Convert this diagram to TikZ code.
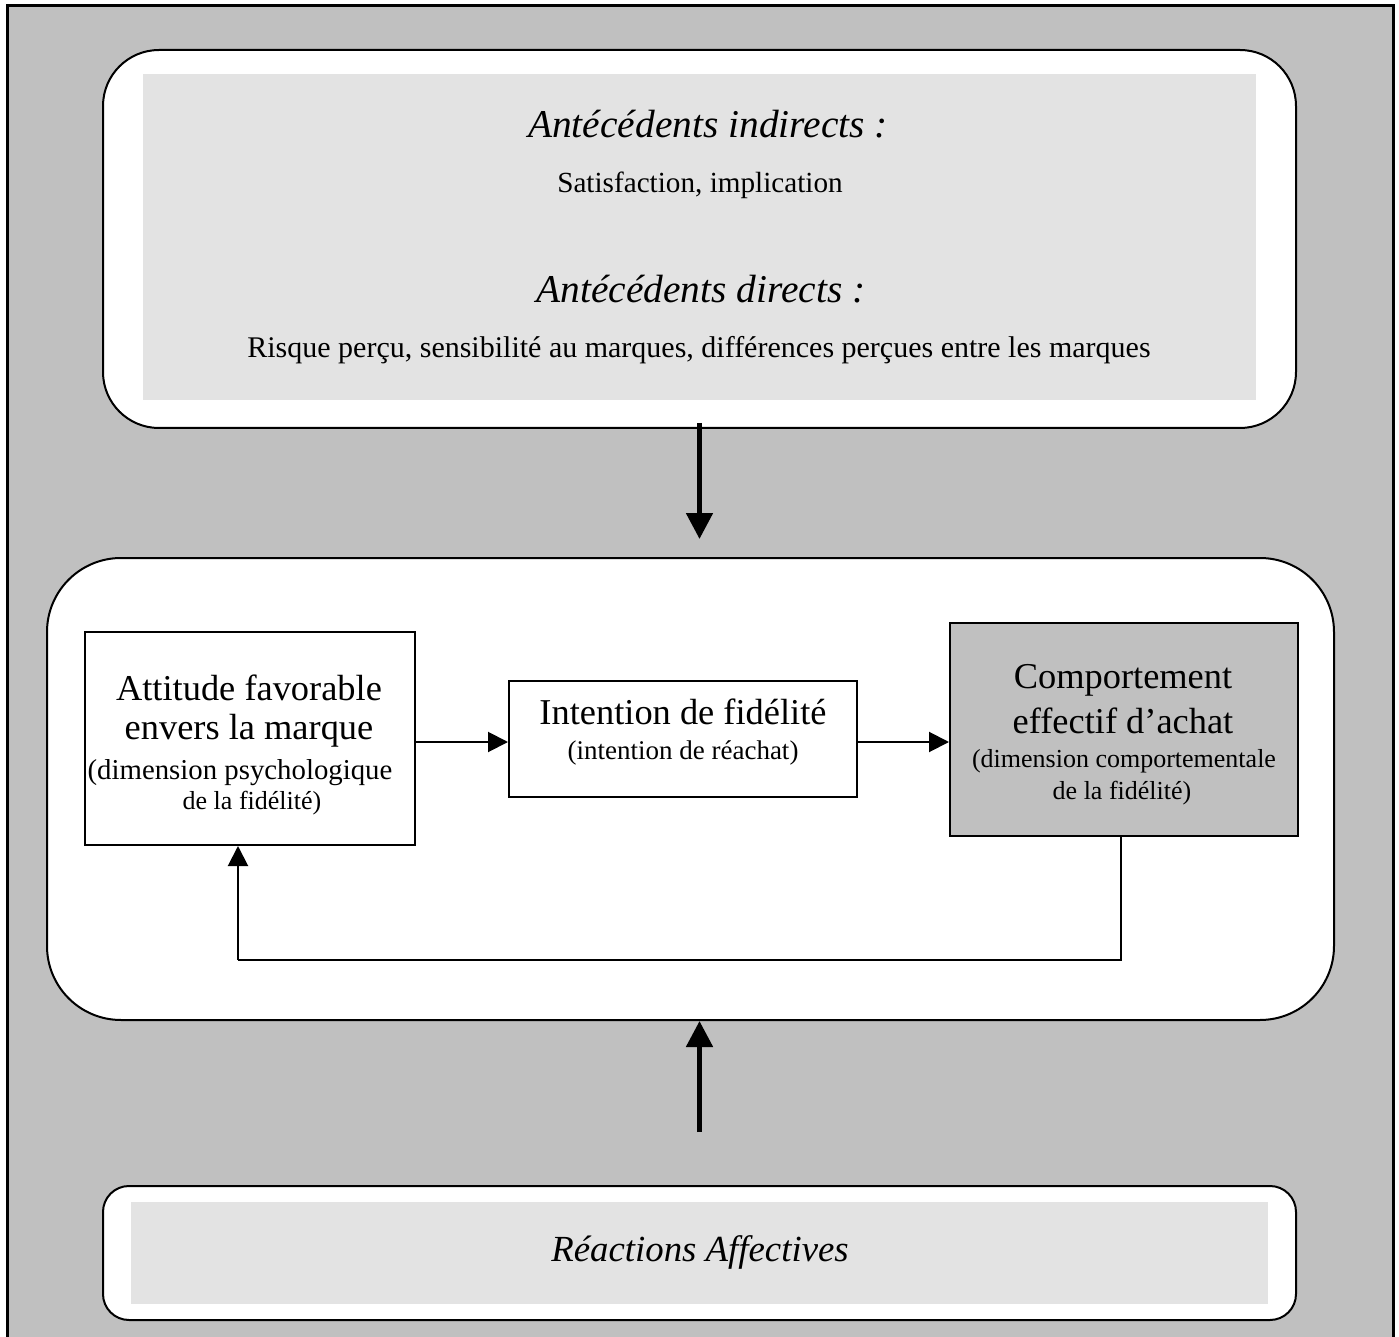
\documentclass[tikz,border=0pt]{standalone}
\usepackage{fontspec}
\setmainfont{Liberation Serif}
\usetikzlibrary{arrows.meta}
\definecolor{bggray}{HTML}{C0C0C0}
\definecolor{lightgray}{HTML}{E3E3E3}
\tikzset{
  panel/.style={fill=lightgray, draw=none, inner sep=0pt},
  plainbox/.style={draw=black, line width=1pt, fill=white, inner sep=0pt},
  darkbox/.style={draw=black, line width=1pt, fill=bggray, inner sep=0pt},
  heading/.style={font=\fontsize{19.7}{23}\selectfont\itshape, inner sep=0pt},
  body/.style={font=\fontsize{14.6}{17}\selectfont, inner sep=0pt},
  big/.style={font=\fontsize{18.2}{21}\selectfont, inner sep=0pt},
  small/.style={font=\fontsize{14.4}{17}\selectfont, inner sep=0pt},
  smaller/.style={font=\fontsize{13}{15}\selectfont, inner sep=0pt},
  thickarrow/.style={line width=2.5pt, -{Triangle[width=13pt,length=13pt]}},
  thinarrow/.style={line width=1pt, -{Triangle[width=10pt,length=10pt]}},
  thinline/.style={line width=1pt}
}
\begin{document}
\begin{tikzpicture}[x=0.5pt,y=-0.5pt]
\useasboundingbox (0,0) rectangle (1399,1337);
% outer frame
\draw[fill=bggray, line width=1.5pt] (7,6) rectangle (1393,1350);

% top rounded box
\node[draw=black, line width=1pt, fill=white, rounded corners=28pt, minimum width=596.5pt, minimum height=189pt, inner sep=0pt] (top) at (699.5,239) {};
\node[panel, minimum width=556.5pt, minimum height=163pt] (toppanel) at (699.5,237) {};
\node[heading] (t1) at (708,124) {Antécédents indirects :};
\node[heading] (t3) at (701,289) {Antécédents directs :};
\node[body] (t2) at (700,185) {Satisfaction, implication};
\node[font=\fontsize{15}{18}\selectfont, inner sep=0pt] (t4) at (699,350) {Risque perçu, sensibilité au marques, différences perçues entre les marques};

% middle rounded box
\node[draw=black, line width=1pt, fill=white, rounded corners=37pt, minimum width=643.5pt, minimum height=231pt, inner sep=0pt] (mid) at (690.5,789) {};

% bottom rounded box
\node[draw=black, line width=1pt, fill=white, rounded corners=13pt, minimum width=596.5pt, minimum height=67pt, inner sep=0pt] (bot) at (699.5,1253) {};
\node[panel, minimum width=568.5pt, minimum height=51pt] (botpanel) at (699.5,1253) {};
\node[font=\fontsize{18.4}{22}\selectfont\itshape, inner sep=0pt] (r1) at (700,1252) {Réactions Affectives};

% inner boxes
\node[plainbox, minimum width=165pt, minimum height=106.5pt] (b1) at (250,738.5) {};
\node[big] (b1a) at (249,688) {Attitude favorable};
\node[big] (b1b) at (249,731) {envers la marque};
\node[small] (b1c) at (240,773) {(dimension psychologique};
\node[smaller] (b1d) at (252,803) {de la fidélité)};

\node[plainbox, minimum width=174pt, minimum height=58pt] (b2) at (683,739) {};
\node[big] (b2a) at (683,712) {Intention de fidélité};
\node[font=\fontsize{13.5}{16}\selectfont, inner sep=0pt] (b2b) at (683,753) {(intention de réachat)};

\node[darkbox, minimum width=174pt, minimum height=106.5pt] (b3) at (1124,729.5) {};
\node[big] (b3a) at (1123,680) {Comportement};
\node[big] (b3b) at (1123,721) {effectif d’achat};
\node[smaller] (b3c) at (1124,761) {(dimension comportementale};
\node[smaller] (b3d) at (1122,793) {de la fidélité)};

% connectors
\coordinate (ay) at (0,742);
\draw[thinarrow] (b1.east |- ay) -- (b2.west |- ay);
\draw[thinarrow] (b2.east |- ay) -- (b3.west |- ay);

\coordinate (f1) at (1121,960);
\coordinate (f2) at (238,960);
\draw[thinline] (b3.south -| f1) -- (f1) -- (f2);
\draw[thinarrow] (f2) -- (f2 |- b1.south);

\draw[thickarrow, shorten <=-3pt, shorten >=9pt] (top.south) -- (top.south |- mid.north);
\draw[thickarrow, shorten <=26.5pt] (bot.north) -- (bot.north |- mid.south);
\end{tikzpicture}
\end{document}
